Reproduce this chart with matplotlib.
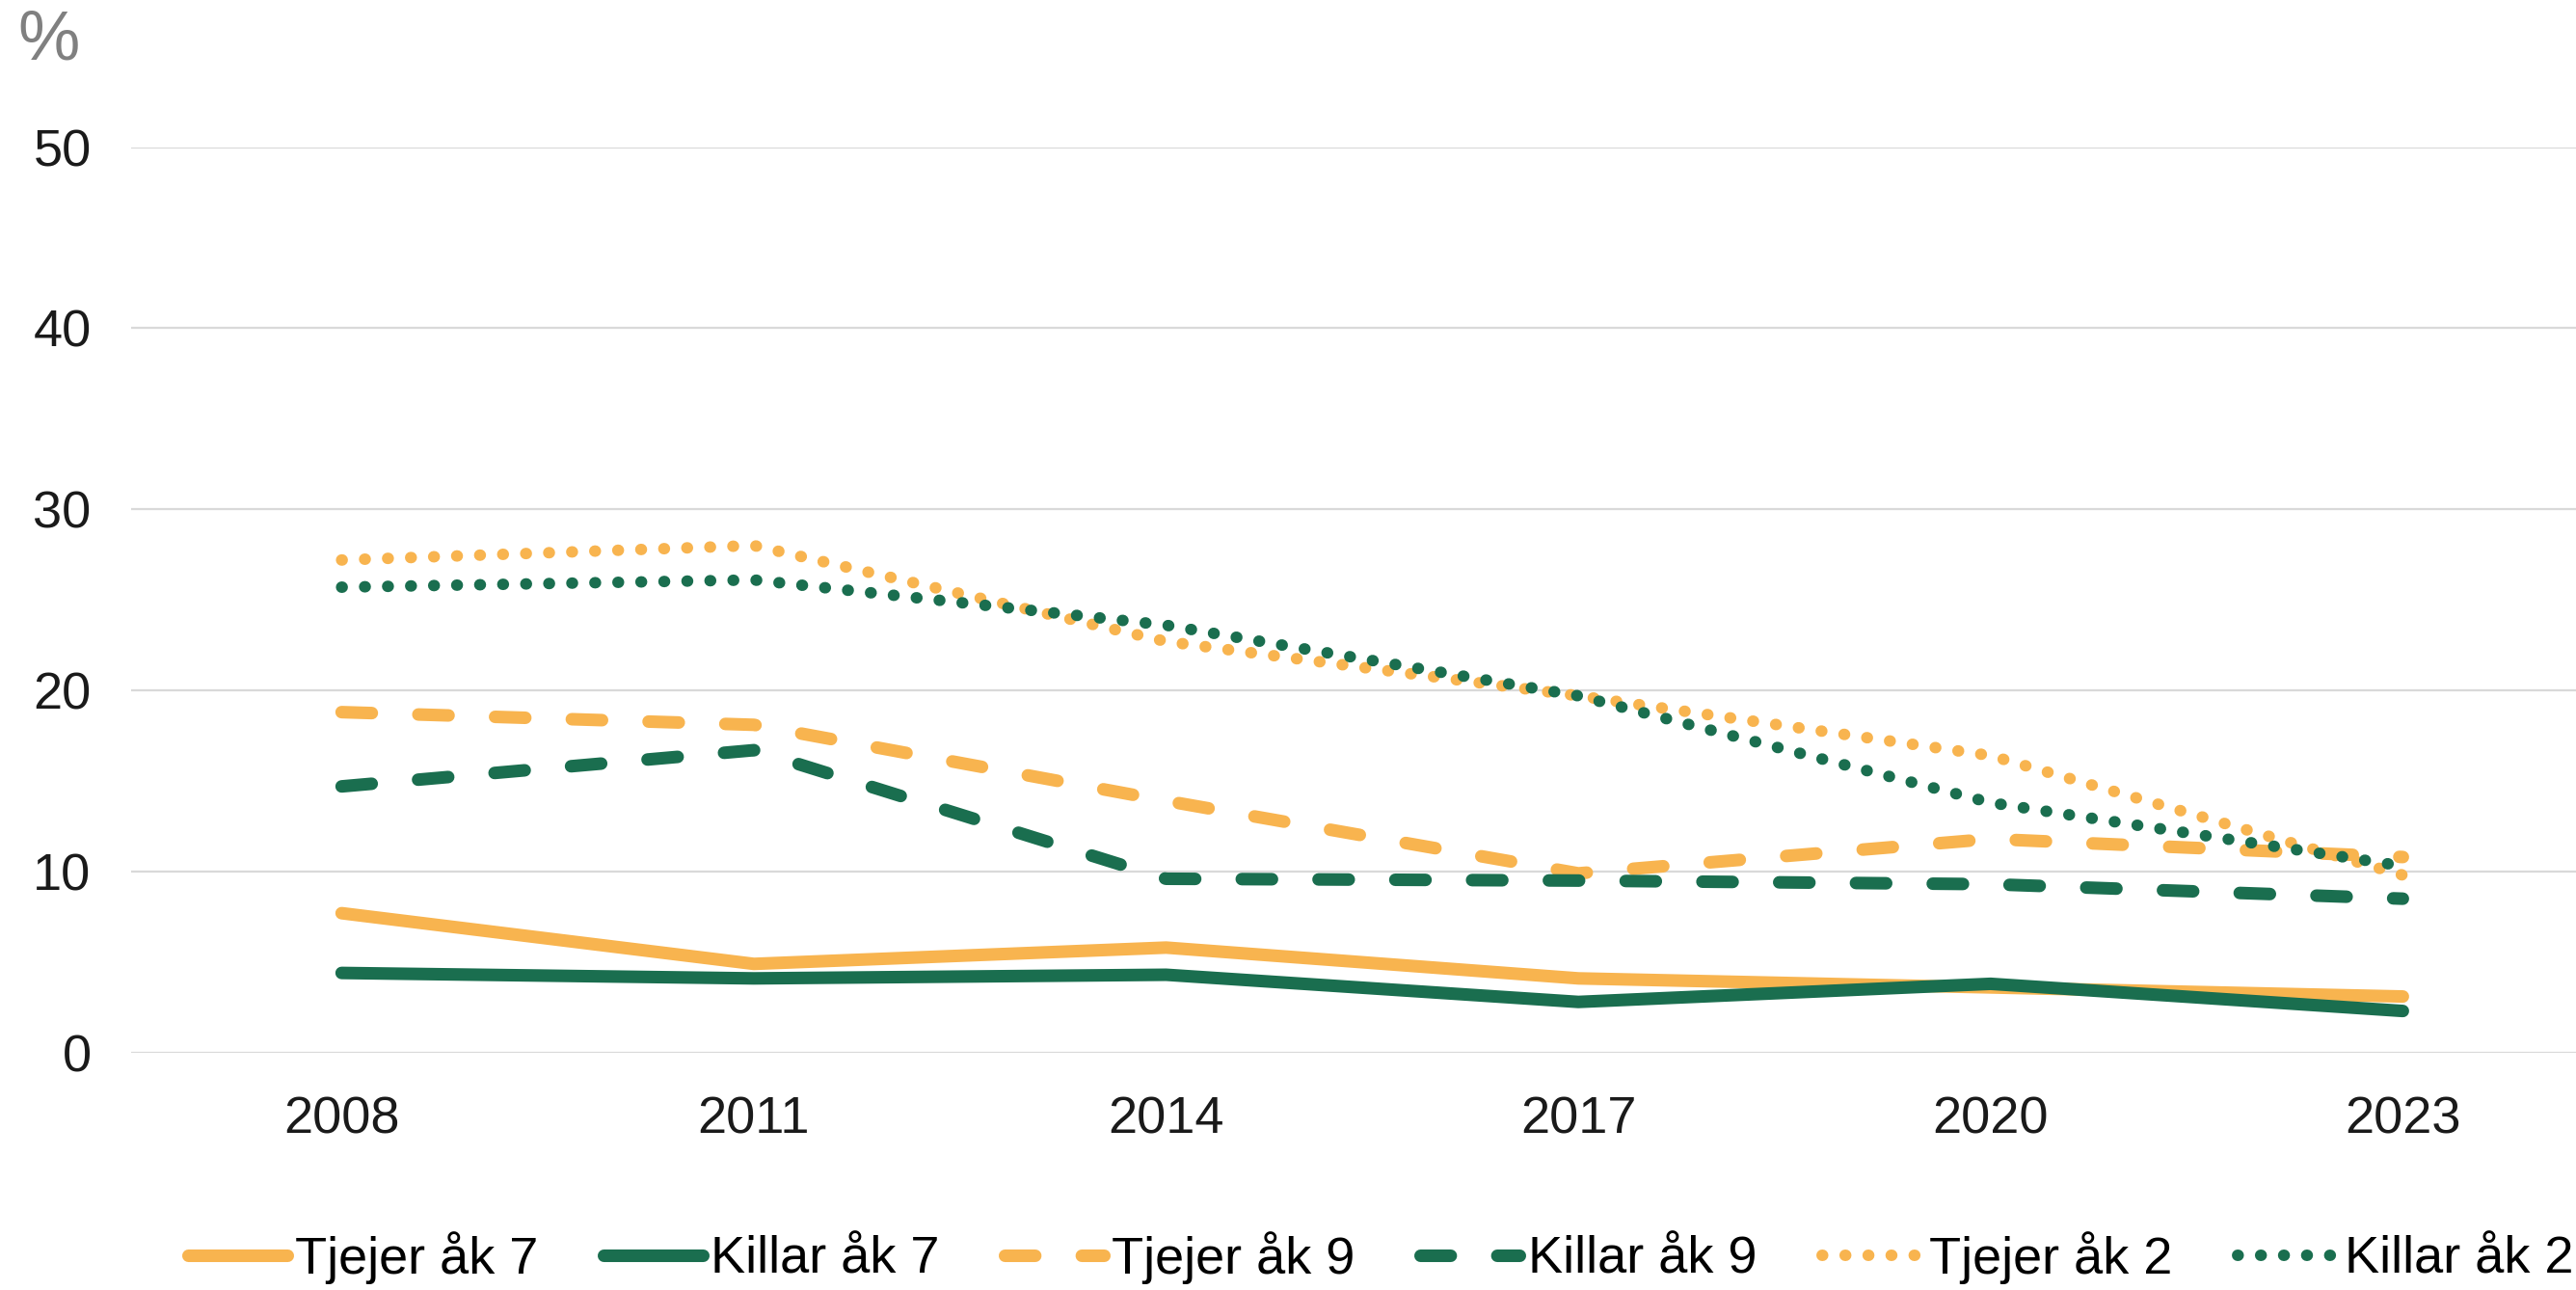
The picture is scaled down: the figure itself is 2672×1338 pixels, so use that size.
import matplotlib.pyplot as plt
import numpy as np

plt.rcParams['font.family'] = ['Liberation Sans', 'DejaVu Sans']

years = [2008, 2011, 2014, 2017, 2020, 2023]

tjejer_ak7 = [7.7, 4.9, 5.8, 4.1, 3.6, 3.1]
killar_ak7 = [4.4, 4.1, 4.3, 2.8, 3.8, 2.3]
tjejer_ak9 = [18.8, 18.1, 13.9, 9.9, 11.8, 10.8]
killar_ak9 = [14.7, 16.7, 9.6, 9.5, 9.3, 8.5]
tjejer_ak2 = [27.2, 28.0, 22.7, 19.7, 16.4, 9.8]
killar_ak2 = [25.7, 26.1, 23.6, 19.7, 13.8, 10.3]

labels = ["Tjejer åk 7", "Killar åk 7", "Tjejer åk 9", "Killar åk 9", "Tjejer åk 2", "Killar åk 2"]

orange = "#F8B44F"
green = "#1A6E4F"

fig = plt.figure(figsize=(13.36, 6.69), dpi=200)
ax = fig.add_axes([0.051, 0.184, 0.949, 0.702])

x = np.arange(len(years))
solid_lw = 4.7
dash_lw = 4.7
dot_lw = 4.3

series = [
    (tjejer_ak7, orange, '-', solid_lw),
    (killar_ak7, green, '-', solid_lw),
    (tjejer_ak9, orange, (0, (2.4, 3.7)), dash_lw),
    (killar_ak9, green, (0, (2.4, 3.7)), dash_lw),
    (tjejer_ak2, orange, (0, (0.05, 1.95)), dot_lw),
    (killar_ak2, green, (0, (0.05, 1.95)), dot_lw),
]

for (vals, col, ls, lw), lab in zip(series, labels):
    ax.plot(x, vals, color=col, linestyle=ls, linewidth=lw, label=lab,
            solid_capstyle='round', dash_capstyle='round', solid_joinstyle='round')

ax.set_ylim(0, 50)
ax.set_xlim(-0.51, 5.42)
ax.set_yticks([0, 10, 20, 30, 40, 50])
ax.set_xticks(x)
ax.set_xticklabels([str(y) for y in years])
ax.grid(axis='y', color='#D9D9D9', linewidth=0.8)
ax.set_axisbelow(True)
for s in ax.spines.values():
    s.set_visible(False)
ax.tick_params(axis='both', length=0, labelsize=19.5, colors='#1a1a1a')
ax.tick_params(axis='y', pad=15)
ax.tick_params(axis='x', pad=16)

fig.text(0.019, 0.968, "%", fontsize=26, color='#808080', va='center', ha='center')

fig.legend(loc='center', bbox_to_anchor=(0.536, 0.025), ncol=6, frameon=False,
           fontsize=19.5, handlelength=1.9, handletextpad=0.15, columnspacing=1.25,
           borderaxespad=0)

fig.savefig("out.png", dpi=200)
